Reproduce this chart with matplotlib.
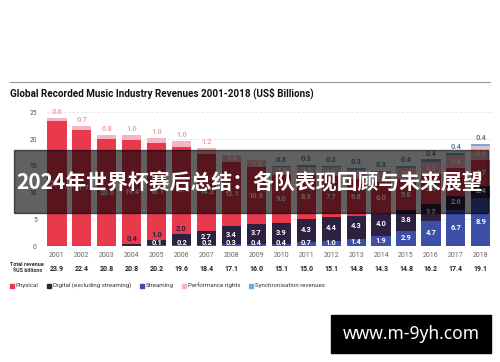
import matplotlib
matplotlib.use("Agg")
import matplotlib.pyplot as plt
from matplotlib.patches import Rectangle
import numpy as np

years = [str(y) for y in range(2001, 2019)]
physical = [23.3, 21.7, 20.0, 19.4, 18.1, 16.4, 14.3, 12.1, 10.6, 9.0, 8.3, 7.7, 6.8, 6.0, 5.8, 5.6, 5.3, 4.7]
digital = [0, 0, 0, 0.4, 1.0, 2.0, 2.7, 3.4, 3.7, 3.9, 4.3, 4.4, 4.3, 4.0, 3.8, 3.2, 2.6, 2.4]
streaming = [0, 0, 0, 0, 0.1, 0.2, 0.2, 0.3, 0.4, 0.4, 0.7, 1.0, 1.4, 1.9, 2.9, 4.7, 6.7, 8.9]
performance = [0.6, 0.7, 0.8, 1.0, 1.0, 1.0, 1.2, 1.3, 1.3, 1.4, 1.5, 1.6, 1.8, 1.9, 2.0, 2.3, 2.4, 2.7]
sync = [0, 0, 0, 0, 0, 0, 0, 0, 0, 0.3, 0.3, 0.3, 0.3, 0.3, 0.4, 0.4, 0.4, 0.4]
totals = ["23.9", "22.4", "20.8", "20.8", "20.2", "19.6", "18.4", "17.1", "16.0", "15.1", "15.0", "15.1", "14.8", "14.3", "14.8", "16.2", "17.4", "19.1"]
yticks = [0, 5, 10, 15, 20, 25]
legend_labels = ["Physical", "Digital (excluding streaming)", "Streaming", "Performance rights", "Synchronisation revenues"]

C_PHYS = "#e8394d"
C_DIG = "#2d2040"
C_STR = "#3d4fa6"
C_PERF = "#f6b6c1"
C_SYNC = "#6aaedd"
colors = [C_PHYS, C_DIG, C_STR, C_PERF, C_SYNC]

plt.rcParams['font.family'] = ['Roboto', 'DejaVu Sans']
fig = plt.figure(figsize=(5, 3.62), dpi=100)
fig.patch.set_facecolor("white")

ax = fig.add_axes([0.093, 0.3204, 0.891, 0.384])
x = np.arange(len(years))
w = 0.77
s = np.array(streaming)
d = np.array(digital)
p = np.array(physical)
pr = np.array(performance)
sy = np.array(sync)

ax.bar(x, s, w, color=C_STR, zorder=2)
ax.bar(x, d, w, bottom=s, color=C_DIG, zorder=2)
ax.bar(x, p, w, bottom=s + d, color=C_PHYS, zorder=2)
ax.bar(x, pr, w, bottom=s + d + p, color=C_PERF, zorder=2)
ax.bar(x, sy, w, bottom=s + d + p + pr, color=C_SYNC, zorder=2)

fs = 5.4
for i in range(len(years)):
    if s[i] > 0:
        ax.text(x[i], max(s[i] / 2, 0.55), f"{s[i]:.1f}", ha="center", va="center",
                color="white", fontsize=fs, fontweight="bold", zorder=3)
    if d[i] > 0:
        top = s[i] + d[i]
        if top < 2.5:
            ax.text(x[i], top + 0.2, f"{d[i]:.1f}", ha="center", va="bottom",
                    color=C_DIG, fontsize=fs, fontweight="bold", zorder=3)
        else:
            ax.text(x[i], s[i] + d[i] / 2 + 0.15, f"{d[i]:.1f}", ha="center", va="center",
                    color="white", fontsize=fs, fontweight="bold", zorder=3)
    base = s[i] + d[i]
    ax.text(x[i], base + p[i] / 2, f"{p[i]:.1f}", ha="center", va="center",
            color="white", fontsize=fs, fontweight="bold", zorder=3)
    base += p[i]
    if pr[i] < 1.25:
        ax.text(x[i], base + pr[i] + 0.35, f"{pr[i]:.1f}", ha="center", va="bottom",
                color="#f2a1ae", fontsize=fs, fontweight="bold", zorder=3)
    else:
        ax.text(x[i], base + pr[i] / 2, f"{pr[i]:.1f}", ha="center", va="center",
                color="white", fontsize=fs, fontweight="bold", zorder=3)
    base += pr[i]
    if sy[i] > 0:
        ax.text(x[i], base + sy[i] + 0.35, f"{sy[i]:.1f}", ha="center", va="bottom",
                color="#5a7fa6", fontsize=fs, fontweight="bold", zorder=3)

ax.set_xlim(-0.42, 17.45)
ax.set_ylim(0, 26)
ax.set_yticks(yticks)
ax.set_yticklabels([str(t) for t in yticks], fontsize=4.8, color="#555555")
ax.set_xticks(x)
ax.set_xticklabels(years, fontsize=5, color="#666666")
ax.tick_params(axis="both", length=0, pad=4)
ax.tick_params(axis="y", pad=7)
for sp in ax.spines.values():
    sp.set_visible(False)
ax.yaxis.grid(True, linestyle=(0, (3, 2)), color="#e2e2e2", linewidth=0.6, zorder=0)
ax.set_axisbelow(True)

# title + line
fig.add_artist(plt.Line2D([10 / 500, 490 / 500], [1 - 82 / 362, 1 - 82 / 362], color="#999999", lw=0.8))
fig.text(10 / 500, 1 - 93 / 362, "Global Recorded Music Industry Revenues 2001-2018 (US$ Billions)",
         fontsize=7.1, fontweight="bold", color="#111111", va="center", ha="left")

# total revenue row
fig.text(10 / 500, 1 - 264.5 / 362, "Total revenue", fontsize=4.0, fontweight="bold", color="#333333", va="center")
fig.text(13 / 500, 1 - 271 / 362, "$US billions", fontsize=4.0, fontweight="bold", color="#333333", va="center")
for i, t in enumerate(totals):
    ax.text(x[i], -(269 - 246) / 5.34, t, fontsize=5.0, fontweight="bold", color="#222222",
            ha="center", va="center", clip_on=False)

# legend
lx = [10, 47, 140, 182, 249]
for xx, lab, c in zip(lx, legend_labels, colors):
    fig.add_artist(Rectangle((xx / 500, 1 - 287.5 / 362), 3.6 / 500, 3.6 / 362, color=c, transform=fig.transFigure))
    fig.text((xx + 6) / 500, 1 - 285.5 / 362, lab, fontsize=4.4, color="#333333", va="center", ha="left")

# overlay banner
fig.add_artist(Rectangle((14 / 500, 1 - 213 / 362), 474 / 500, 63 / 362, color="black", alpha=0.62,
                         transform=fig.transFigure, zorder=10))
fig.text(250 / 500, 1 - 182 / 362, "2024年世界杯赛后总结：各队表现回顾与未来展望",
         family=["Noto Sans CJK SC", "DejaVu Sans"], fontsize=15, fontweight="bold",
         color="white", ha="center", va="center", zorder=11)

# watermark
fig.add_artist(Rectangle((331 / 500, 1 - 353 / 362), 160 / 500, 38 / 362, color="black",
                         transform=fig.transFigure, zorder=10))
fig.text(411 / 500, 1 - 334 / 362, "www.m-9yh.com", family=["Noto Sans", "DejaVu Sans"],
         fontsize=12.5, fontweight="bold", color="white", ha="center", va="center", zorder=11)

fig.savefig("out.png", dpi=100)
